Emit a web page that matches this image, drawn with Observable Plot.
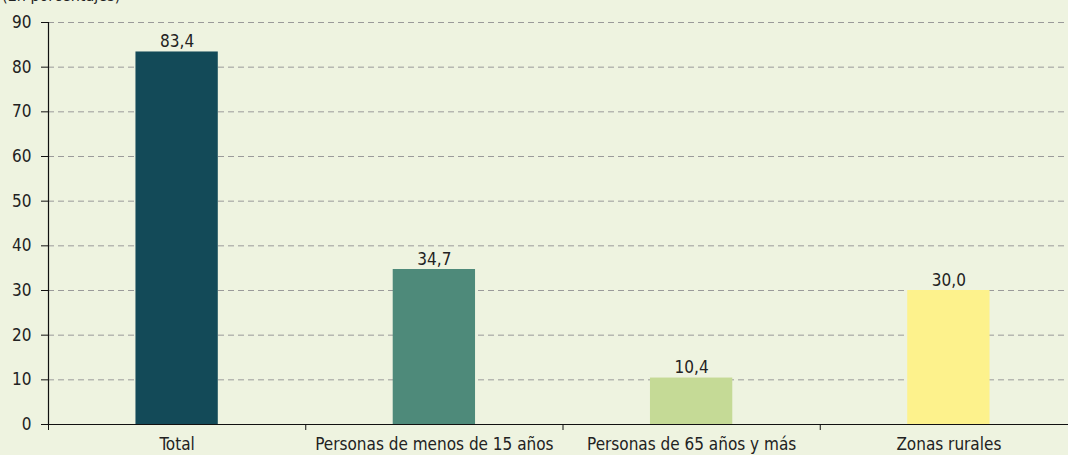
<!DOCTYPE html>
<html>
<head>
<meta charset="utf-8">
<script src="https://cdn.jsdelivr.net/npm/d3@7"></script>
<script src="https://cdn.jsdelivr.net/npm/@observablehq/plot@0.6"></script>
<style>
  html, body { margin: 0; padding: 0; background: #eef3e0; }
  body { width: 1068px; height: 455px; overflow: hidden; position: relative;
         font-family: "DejaVu Sans Condensed", "DejaVu Sans", sans-serif; font-stretch: condensed; }
  #sub { position: absolute; left: 2px; top: -14px; font-size: 16px; color: #222; z-index: 2; }
  #chart svg { display: block; }
</style>
</head>
<body>
<div id="sub">(En porcentajes)</div>
<div id="chart"></div>
<script>
const categories = ["Total", "Personas de menos de 15 años", "Personas de 65 años y más", "Zonas rurales"];
const values = [83.4, 34.7, 10.4, 30.0];
const colors = ["#134a58", "#4e8a7a", "#c5da96", "#fdf28c"];
const yTicks = [0, 10, 20, 30, 40, 50, 60, 70, 80, 90];

const data = categories.map((c, i) => ({cat: c, i, value: values[i], color: colors[i]}));
const half = 0.16;
const fmt = v => v.toFixed(1).replace(".", ",");
const font = `"DejaVu Sans Condensed", sans-serif`;

const chart = Plot.plot({
  width: 1068,
  height: 455,
  marginLeft: 48,
  marginRight: -9,
  marginTop: 22,
  marginBottom: 31,
  style: {background: "#eef3e0", fontFamily: font, fontSize: "17px", color: "#222"},
  x: {domain: [0, categories.length], axis: null},
  y: {domain: [0, 90], axis: null},
  marks: [
    Plot.ruleY(yTicks.slice(1), {stroke: "#9a9a9a", strokeDasharray: "6,4", strokeWidth: 1}),
    Plot.rectY(data, {x1: d => d.i + 0.5 - half, x2: d => d.i + 0.5 + half, y: "value", fill: d => d.color}),
    Plot.text(data, {x: d => d.i + 0.5, y: "value", text: d => fmt(d.value), dy: -10, fontSize: 17, fill: "#222"}),
    Plot.axisY({ticks: yTicks, label: null, tickSize: 7, tickPadding: 10, fontSize: 17, stroke: "#111", fill: "#222", tickFormat: d => d}),
    Plot.ruleX([0], {y1: 0, y2: 90, stroke: "#111", strokeWidth: 1.2}),
    Plot.ruleY([0], {stroke: "#111", strokeWidth: 1.2}),
    Plot.axisX({ticks: d3.range(0, categories.length + 1), label: null, tickSize: 6, tickFormat: () => "", stroke: "#111"}),
    Plot.axisX({ticks: categories.map((c, i) => i + 0.5), label: null, tickSize: 0, tickPadding: 13, fontSize: 17, fill: "#222",
                tickFormat: v => categories[Math.floor(v)]})
  ]
});
document.getElementById("chart").appendChild(chart);
</script>
</body>
</html>
